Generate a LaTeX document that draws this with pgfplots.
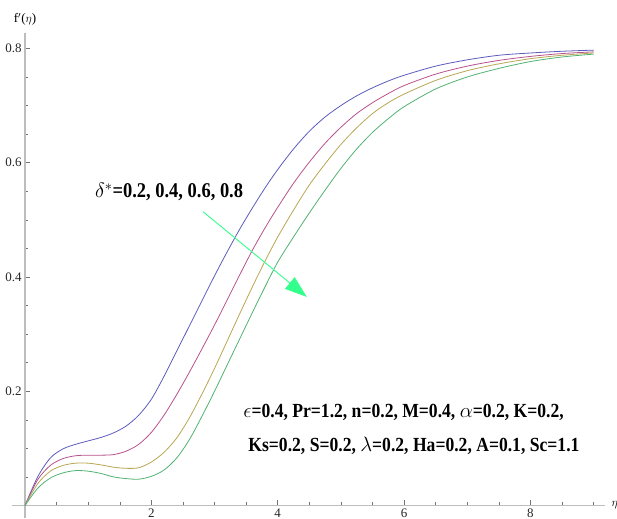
\documentclass[border=0pt]{standalone}
\usepackage{fontspec}
\setmainfont{Liberation Serif}
\newfontfamily\annfont[FakeStretch=0.88]{Liberation Serif}
\usepackage{pgfplots}
\pgfplotsset{compat=1.18}
\usetikzlibrary{arrows.meta}

\definecolor{mblue}{rgb}{0.36,0.36,0.74}
\definecolor{mmag}{rgb}{0.72,0.32,0.55}
\definecolor{mgold}{rgb}{0.72,0.65,0.32}
\definecolor{mgreen}{rgb}{0.32,0.70,0.45}
\definecolor{arrowgreen}{rgb}{0.2,1,0.55}
\definecolor{axgray}{rgb}{0.74,0.74,0.74}

\begin{document}
\begin{tikzpicture}
\begin{axis}[
  scale only axis, width=592.8pt, height=485.2pt,
  xmin=-0.2, xmax=9.18, ymin=-0.022, ymax=0.827,
  axis lines=middle,
  axis line style={axgray, line width=1.2pt, -},
  xtick={2,4,6,8}, ytick={0.2,0.4,0.6,0.8},
  minor xtick={0.5,1,1.5,2.5,3,3.5,4.5,5,5.5,6.5,7,7.5,8.5,9},
  minor ytick={0.05,0.1,0.15,0.25,0.3,0.35,0.45,0.5,0.55,0.65,0.7,0.75},
  tick align=inside,
  major tick length=5pt, minor tick length=3pt,
  every tick/.style={color=black!55, line width=0.5pt},
  ticklabel style={font=\fontsize{13}{13}\selectfont, color=black!85},
  /pgf/number format/assume math mode=true,
  yticklabel style={/pgf/number format/fixed, /pgf/number format/precision=1, /pgf/number format/fixed zerofill},
  clip=false,
]
\addplot[mblue, line width=0.8pt, smooth] coordinates {
(0,0) (0.2,0.05) (0.4,0.083) (0.6,0.099) (0.8,0.107) (1.0,0.113) (1.2,0.119) (1.4,0.127) (1.6,0.139) (1.8,0.158) (2.0,0.186) (2.2,0.226) (2.4,0.270) (2.6,0.314) (2.8,0.358) (3.0,0.402) (3.2,0.444) (3.4,0.484) (3.6,0.521) (3.8,0.556) (4.0,0.588) (4.25,0.624) (4.5,0.655) (4.75,0.68) (5.0,0.70) (5.25,0.717) (5.5,0.731) (5.75,0.743) (6.0,0.753) (6.5,0.769) (7.0,0.78) (7.5,0.788) (8.0,0.792) (8.5,0.795) (9.0,0.797)};
\addplot[mmag, line width=0.8pt, smooth] coordinates {
(0,0) (0.2,0.045) (0.4,0.07) (0.6,0.082) (0.8,0.087) (1.0,0.088) (1.2,0.088) (1.4,0.089) (1.6,0.095) (1.8,0.107) (2.0,0.128) (2.2,0.158) (2.4,0.194) (2.6,0.233) (2.8,0.274) (3.0,0.316) (3.2,0.36) (3.4,0.404) (3.6,0.447) (3.8,0.486) (4.0,0.522) (4.25,0.564) (4.5,0.601) (4.75,0.634) (5.0,0.662) (5.25,0.686) (5.5,0.705) (5.75,0.721) (6.0,0.735) (6.5,0.755) (7.0,0.769) (7.5,0.779) (8.0,0.786) (8.5,0.791) (9.0,0.794)};
\addplot[mgold, line width=0.8pt, smooth] coordinates {
(0,0) (0.2,0.038) (0.4,0.06) (0.6,0.07) (0.8,0.074) (1.0,0.074) (1.2,0.071) (1.4,0.067) (1.6,0.065) (1.8,0.066) (2.0,0.076) (2.2,0.093) (2.4,0.118) (2.6,0.153) (2.8,0.195) (3.0,0.24) (3.2,0.288) (3.4,0.336) (3.6,0.383) (3.8,0.428) (4.0,0.47) (4.25,0.517) (4.5,0.561) (4.75,0.598) (5.0,0.632) (5.25,0.661) (5.5,0.686) (5.75,0.705) (6.0,0.72) (6.5,0.744) (7.0,0.761) (7.5,0.773) (8.0,0.782) (8.5,0.788) (9.0,0.792)};
\addplot[mgreen, line width=0.8pt, smooth] coordinates {
(0,0) (0.2,0.03) (0.4,0.048) (0.6,0.057) (0.8,0.061) (1.0,0.06) (1.2,0.056) (1.4,0.05) (1.6,0.047) (1.8,0.046) (2.0,0.051) (2.2,0.062) (2.4,0.083) (2.6,0.115) (2.8,0.156) (3.0,0.2) (3.2,0.246) (3.4,0.292) (3.6,0.338) (3.8,0.383) (4.0,0.426) (4.25,0.47) (4.5,0.512) (4.75,0.552) (5.0,0.59) (5.25,0.624) (5.5,0.653) (5.75,0.677) (6.0,0.698) (6.5,0.729) (7.0,0.75) (7.5,0.765) (8.0,0.777) (8.5,0.785) (9.0,0.79)};

\node[anchor=south, font=\fontsize{13}{13}\selectfont] at (axis cs:0,0.827) [yshift=4pt] {f$'$($\eta$)};
\node[anchor=west, font=\fontsize{13}{13}\selectfont] at (axis cs:9.18,0) [xshift=3pt] {$\eta$};

\node[font=\annfont\bfseries\fontsize{21}{21}\selectfont] at (axis cs:2.28,0.548) {$\delta^{*}$=0.2, 0.4, 0.6, 0.8};
\draw[arrowgreen, line width=0.9pt, -{Triangle[length=22pt,width=15pt]}] (axis cs:2.82,0.514) -- (axis cs:4.46,0.365);

\node[anchor=west, font=\annfont\bfseries\fontsize{20}{20}\selectfont] at (axis cs:3.40,0.163) {$\epsilon$=0.4, Pr=1.2, n=0.2, M=0.4, $\alpha$=0.2, K=0.2,};
\node[anchor=west, font=\annfont\bfseries\fontsize{20}{20}\selectfont] at (axis cs:3.48,0.105) {Ks=0.2, S=0.2, $\lambda$=0.2, Ha=0.2, A=0.1, Sc=1.1};
\end{axis}
\pgfresetboundingbox
\useasboundingbox ([xshift=-12.4pt]current axis.south west) rectangle ([xshift=12pt,yshift=33pt]current axis.north east);
\end{tikzpicture}
\end{document}
